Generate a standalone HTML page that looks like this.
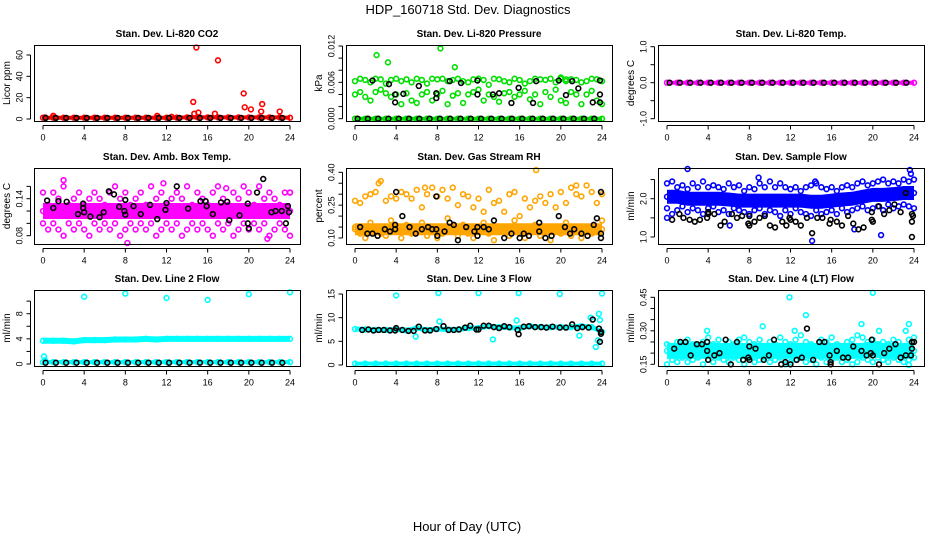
<!DOCTYPE html>
<html><head><meta charset="utf-8"><style>
html,body{margin:0;padding:0;background:#fff;}
svg{display:block;font-family:"Liberation Sans",sans-serif;}
</style></head><body>
<svg id="chart" width="936" height="540" viewBox="0 0 936 540">
<text x="468" y="14" font-size="13" text-anchor="middle">HDP_160718  Std. Dev. Diagnostics</text>
<text x="467" y="531" font-size="13" text-anchor="middle">Hour of Day (UTC)</text>
</svg>
<script>
// ---------- data ----------
const xTicks = [0,4,8,12,16,20,24];
const bandHours = [0,1,2,3,4,5,6,7,8,9,10,11,12,13,14,15,16,17,18,19,20,21,22,23,24];

const co2Band = [1.2,1.2,1.2,1.2,1.2,1.2,1.2,1.2,1.2,1.2,1.2,1.2,1.2,1.3,1.5,1.6,1.5,1.5,1.5,1.5,1.5,1.5,1.5,1.5,1.2];
const co2Out = [[14.6,16],[14.9,67],[17,55],[19.5,24],[19.6,11],[20.2,9],[21.3,14],[21.2,7],[23,7],[15.1,6],[14.7,5],[16.7,5],[11.1,3],[12.5,2],[0.2,1.5],[1,3]];
const co2Black = [1,1,1,1,1,1,1,1,1,1,1,1,1,1,1,1,1,1,1,1,1,1,1,1,1];

const presBand = [0,0,0,0,0,0,0,0,0,0,0,0,0,0,0,0,0,0,0,0,0,0,0,0,0];
const presHigh = [0.0062,0.0066,0.0064,0.0060,0.0066,0.0065,0.0058,0.0064,0.0066,0.0062,0.0065,0.0060,0.0066,0.0064,0.0058,0.0066,0.0065,0.0066,0.0062,0.0064,0.0066,0.0062,0.0060,0.0065,0.0066,0.0064,0.0056,0.0066,0.0065,0.0062,0.0060,0.0066,0.0064,0.0058,0.0062,0.0066,0.0065,0.0064,0.0066,0.0060,0.0066,0.0062,0.0065,0.0064,0.0060,0.0062,0.0066,0.0065,0.0062];
const presLow = [0.0040,0.0044,0.0036,0.0030,0.0044,0.0048,0.0042,0.0036,0.0040,0.0024,0.0042,0.0030,0.0026,0.0040,0.0044,0.0030,0.0040,0.0046,0.0024,0.0038,0.0042,0.0026,0.0040,0.0044,0.0048,0.0030,0.0040,0.0036,0.0028,0.0042,0.0044,0.0036,0.0040,0.0046,0.0032,0.0040,0.0024,0.0044,0.0036,0.0048,0.0030,0.0026,0.0044,0.0040,0.0024,0.0040,0.0046,0.0030,0.0024];
const presOut = [[2.1,0.0105],[3.2,0.0093],[8.3,0.0116],[9.7,0.0085],[20,0.0068],[20.5,0.0065]];
const presBlack = [[1.7,0.0063],[3.3,0.0057],[3.9,0.0040],[3.9,0.0027],[4.7,0.0041],[6.2,0.0054],[7.9,0.0042],[7.9,0.0034],[9.2,0.0062],[10.3,0.0059],[11.9,0.0063],[11.9,0.0040],[13.4,0.0040],[14,0.0042],[15.2,0.0026],[15.9,0.0051],[17.3,0.0026],[17.6,0.0062],[19.8,0.0063],[20.5,0.0039],[21.1,0.0062],[21.7,0.0050],[23.1,0.0027],[23.8,0.0063],[23.8,0.0040],[23.8,0.0027]];
const presBlackZero = [0,0,0,0,0,0,0,0,0,0,0,0,0,0,0,0,0,0,0,0,0,0,0,0,0];

const tempBand = [0,0,0,0,0,0,0,0,0,0,0,0,0,0,0,0,0,0,0,0,0,0,0,0,0];
const tempBlack = [0,0,0,0,0,0,0,0,0,0,0,0,0,0,0,0,0,0,0,0,0,0,0,0,0];

const ambBand = [0.12,0.12,0.12,0.12,0.12,0.12,0.12,0.12,0.12,0.12,0.12,0.12,0.12,0.12,0.12,0.12,0.12,0.12,0.12,0.12,0.12,0.12,0.12,0.12,0.12];
const ambHigh = [0.15,0.13,0.15,0.14,0.16,0.13,0.14,0.15,0.13,0.14,0.15,0.14,0.13,0.15,0.16,0.14,0.15,0.13,0.14,0.15,0.13,0.16,0.14,0.15,0.13,0.14,0.15,0.14,0.16,0.13,0.15,0.14,0.13,0.15,0.16,0.14,0.13,0.15,0.14,0.16,0.15,0.13,0.16,0.14,0.15,0.14,0.13,0.15,0.15];
const ambLow = [0.10,0.09,0.10,0.09,0.08,0.10,0.09,0.10,0.09,0.08,0.10,0.09,0.10,0.09,0.10,0.08,0.09,0.10,0.09,0.10,0.09,0.10,0.08,0.09,0.10,0.09,0.10,0.08,0.09,0.10,0.09,0.10,0.09,0.08,0.10,0.09,0.10,0.08,0.09,0.10,0.09,0.10,0.09,0.10,0.08,0.09,0.10,0.09,0.08];
const ambOut = [[2,0.17],[8.2,0.067],[11.7,0.165],[17.8,0.157],[21.8,0.075],[24,0.15]];
const ambBlack = [[0.4,0.137],[1,0.125],[1.5,0.136],[2.3,0.135],[3.4,0.115],[3.9,0.132],[3.9,0.125],[4,0.118],[4.6,0.111],[5.5,0.11],[5.9,0.118],[6.4,0.152],[6.9,0.147],[7.4,0.127],[7.9,0.12],[8.0,0.138],[8.0,0.114],[8.8,0.128],[9.5,0.115],[10.4,0.13],[11.1,0.107],[11.9,0.122],[12.0,0.133],[13.0,0.16],[14.1,0.124],[15.3,0.136],[15.8,0.136],[15.9,0.128],[16.5,0.115],[17.3,0.134],[17.9,0.135],[18.1,0.105],[19.1,0.113],[19.9,0.132],[19.9,0.10],[20.0,0.092],[20.8,0.15],[21.4,0.172],[22.2,0.118],[22.6,0.12],[23.2,0.12],[23.6,0.10],[23.8,0.128],[23.9,0.118]];

const rhBand = [0.14,0.14,0.14,0.14,0.14,0.14,0.14,0.14,0.14,0.14,0.14,0.14,0.14,0.14,0.14,0.14,0.14,0.14,0.14,0.14,0.14,0.14,0.14,0.14,0.14];
const rhHigh = [0.27,0.26,0.29,0.30,0.31,0.36,0.27,0.29,0.28,0.31,0.30,0.28,0.32,0.24,0.30,0.33,0.29,0.32,0.28,0.33,0.25,0.30,0.29,0.24,0.28,0.22,0.32,0.26,0.27,0.22,0.30,0.31,0.20,0.28,0.24,0.27,0.29,0.26,0.30,0.24,0.31,0.26,0.33,0.30,0.29,0.34,0.31,0.26,0.30];
const rhLow = [0.15,0.12,0.10,0.17,0.13,0.12,0.11,0.18,0.14,0.10,0.16,0.12,0.13,0.17,0.11,0.15,0.10,0.12,0.19,0.13,0.11,0.16,0.12,0.10,0.14,0.17,0.12,0.09,0.15,0.13,0.11,0.18,0.12,0.10,0.14,0.16,0.11,0.13,0.09,0.15,0.12,0.17,0.11,0.13,0.10,0.15,0.12,0.14,0.18];
const rhOut = [[17.6,0.41],[2.3,0.35],[6.8,0.33],[21.5,0.34]];
const rhBlack = [[0.5,0.15],[1.2,0.12],[1.7,0.12],[2.2,0.11],[2.9,0.14],[3.4,0.13],[3.9,0.14],[3.9,0.16],[4,0.31],[4.6,0.20],[5.3,0.15],[5.9,0.12],[6.5,0.14],[7.1,0.15],[7.5,0.14],[7.9,0.14],[7.9,0.29],[8.0,0.11],[8.7,0.13],[9.2,0.17],[9.6,0.16],[10.0,0.09],[10.8,0.15],[11.6,0.13],[11.9,0.15],[11.9,0.11],[12.5,0.15],[13.0,0.14],[13.5,0.18],[14.5,0.10],[15.2,0.12],[16.0,0.10],[16.4,0.12],[16.9,0.11],[17.9,0.17],[17.9,0.13],[18.5,0.10],[19.1,0.11],[19.8,0.20],[20.4,0.15],[20.9,0.12],[21.3,0.14],[22.0,0.12],[22.6,0.11],[23.2,0.16],[23.5,0.19],[23.9,0.12],[23.9,0.10],[23.9,0.31]];

const flowBand = [2.05,2.05,2.0,2.0,2.0,2.0,1.98,1.95,1.95,1.95,1.95,1.95,1.95,1.95,1.92,1.92,1.95,1.98,2.0,2.05,2.1,2.1,2.12,2.15,2.15];
const flowHigh = [2.4,2.45,2.3,2.35,2.25,2.4,2.3,2.45,2.3,2.35,2.3,2.25,2.4,2.3,2.35,2.2,2.3,2.25,2.4,2.3,2.45,2.3,2.4,2.3,2.25,2.3,2.2,2.3,2.35,2.4,2.3,2.25,2.3,2.2,2.3,2.35,2.3,2.4,2.45,2.35,2.4,2.45,2.5,2.4,2.45,2.4,2.5,2.45,2.5];
const flowLow = [1.75,1.6,1.7,1.8,1.65,1.75,1.7,1.6,1.75,1.8,1.65,1.7,1.6,1.75,1.7,1.65,1.6,1.7,1.75,1.6,1.7,1.65,1.55,1.7,1.6,1.75,1.65,1.6,1.55,1.7,1.6,1.65,1.7,1.6,1.75,1.65,1.7,1.75,1.8,1.7,1.75,1.8,1.7,1.85,1.75,1.8,1.85,1.8,1.75];
const flowOut = [[2,2.8],[8.9,2.55],[14.1,0.9],[20.8,1.05],[23.6,2.75],[23.7,2.65],[0,1.5],[6.1,1.3],[14.4,2.45],[18.2,1.2]];
const flowBlack = [[0.5,1.45],[1.2,1.6],[1.6,1.5],[2.2,1.45],[2.7,1.4],[3.2,1.45],[3.9,1.5],[4,1.6],[4,1.65],[4.6,1.6],[5.2,1.3],[5.6,1.4],[6.3,1.6],[6.8,1.5],[7.3,1.55],[7.9,1.35],[8,1.3],[8,1.55],[8.5,1.4],[9,1.5],[9.5,1.55],[10,1.3],[10.5,1.25],[11.2,1.4],[11.6,1.3],[11.9,1.5],[12,1.45],[12.5,1.4],[13,1.3],[13.6,1.5],[14.1,1.1],[14.6,1.5],[15.1,1.5],[15.8,1.35],[15.9,1.45],[16.5,1.4],[17,1.3],[17.6,1.55],[18.1,1.35],[18.6,1.2],[19.1,1.25],[19.9,1.45],[19.9,1.65],[20,1.4],[20.6,1.8],[21.1,1.6],[21.6,1.7],[22.1,1.85],[22.7,1.65],[23.2,2.15],[23.8,1.6],[23.8,1.4],[23.9,1.55],[23.8,1.0]];

const line2Band = [3.7,3.7,3.7,3.6,3.8,3.8,3.8,3.9,3.9,3.9,4.0,3.9,4.0,4.0,4.0,4.0,4.0,4.0,4.0,4.0,4.0,4.0,4.0,4.0,4.0];
const line2Base = [0.3,0.3,0.3,0.3,0.3,0.3,0.3,0.3,0.3,0.3,0.3,0.3,0.3,0.3,0.3,0.3,0.3,0.3,0.3,0.3,0.3,0.3,0.3,0.3,0.3];
const line2Out = [[4,10.7],[8,11.2],[12,10.5],[16,10.2],[20,11.1],[24,11.4],[0.1,1.2],[0.2,0.6]];
const line2Black = [0.2,0.2,0.2,0.2,0.2,0.2,0.2,0.2,0.2,0.2,0.2,0.2,0.2,0.2,0.2,0.2,0.2,0.2,0.2,0.2,0.2,0.2,0.2,0.2,0.2];

const line3Band = [7.6,7.5,7.4,7.4,7.5,7.3,7.8,7.4,7.6,7.5,7.5,7.8,7.8,8.2,8.0,7.9,7.8,8.2,8.0,8.0,8.0,8.0,8.2,8.0,7.0];
const line3Base = [0.3,0.3,0.3,0.3,0.3,0.3,0.3,0.3,0.3,0.3,0.3,0.3,0.3,0.3,0.3,0.3,0.3,0.3,0.3,0.3,0.3,0.3,0.3,0.3,0.3];
const line3Out = [[4,14.7],[8.1,15.2],[12,15.2],[15.9,15.2],[19.9,15.0],[24,15.1],[5.9,6.0],[8.2,9.2],[13.4,5.4],[15.7,9.4],[21.8,6.2],[22.9,10],[23.4,3.8],[23.6,5.2],[23.7,10.8],[23.8,9.5]];
const line3Black = [[0.7,7.4],[1.3,7.5],[1.8,7.3],[2.3,7.4],[2.8,7.4],[3.4,7.3],[3.9,7.3],[4,7.8],[4.6,7.4],[5.2,7.2],[5.7,7.2],[6.2,8.1],[6.8,7.3],[7.3,7.3],[7.9,7.6],[8.6,8.2],[9.1,7.4],[9.6,7.4],[10.1,7.5],[10.7,7.9],[11.2,8.3],[11.8,7.5],[12,7.5],[12.5,8.3],[13.0,8.3],[13.5,8.0],[14.0,7.8],[14.5,8.2],[15.0,8.0],[15.8,7.4],[15.9,6.5],[16.4,8.1],[16.9,8.2],[17.5,8.0],[18.1,8.0],[18.6,7.9],[19.2,8.1],[19.9,7.9],[20.5,7.9],[21.1,8.6],[21.6,7.8],[22.1,8.0],[22.7,7.9],[23.1,9.6],[23.7,7.7],[23.8,4.9],[23.9,6.6],[23.9,7.0]];

const line4Band = [0.21,0.21,0.21,0.21,0.21,0.21,0.21,0.21,0.21,0.21,0.21,0.21,0.21,0.21,0.21,0.21,0.21,0.21,0.21,0.21,0.22,0.21,0.21,0.21,0.21];
const line4High = [0.24,0.23,0.25,0.24,0.26,0.24,0.23,0.25,0.27,0.24,0.26,0.23,0.25,0.24,0.26,0.27,0.25,0.24,0.26,0.23,0.25,0.24,0.27,0.25,0.24,0.26,0.28,0.25,0.24,0.23,0.26,0.25,0.27,0.24,0.23,0.25,0.26,0.28,0.27,0.25,0.26,0.24,0.25,0.24,0.26,0.25,0.23,0.26,0.27];
const line4Low = [0.15,0.17,0.16,0.18,0.16,0.17,0.18,0.15,0.17,0.16,0.18,0.17,0.16,0.18,0.17,0.15,0.18,0.16,0.17,0.18,0.16,0.17,0.18,0.15,0.16,0.17,0.18,0.16,0.17,0.15,0.18,0.16,0.17,0.18,0.16,0.17,0.15,0.16,0.18,0.17,0.16,0.18,0.17,0.16,0.18,0.17,0.16,0.17,0.18];
const line4Out = [[11.9,0.45],[13.5,0.37],[20,0.47],[18.9,0.33],[9.3,0.32],[3.9,0.30],[12.4,0.30],[20.6,0.30],[23.2,0.30],[23.5,0.33],[23.5,0.12]];
const line4Black = [[0.7,0.22],[1.3,0.25],[1.8,0.25],[2.3,0.19],[2.9,0.24],[3.4,0.24],[3.9,0.25],[3.9,0.21],[4,0.17],[4.6,0.19],[5.1,0.20],[5.7,0.26],[6.2,0.15],[6.8,0.25],[7.4,0.17],[7.9,0.18],[8,0.23],[8,0.17],[8.6,0.22],[9.4,0.17],[9.9,0.19],[10.4,0.26],[11.1,0.15],[11.5,0.16],[11.9,0.21],[12,0.15],[12.6,0.17],[13.1,0.18],[13.6,0.31],[14.2,0.17],[14.8,0.25],[15.3,0.25],[15.8,0.19],[15.9,0.16],[15.9,0.15],[16.5,0.21],[17.1,0.18],[17.6,0.18],[18.1,0.23],[18.9,0.21],[19.4,0.19],[19.8,0.20],[19.9,0.26],[20,0.19],[20.6,0.15],[21.1,0.20],[21.6,0.22],[22.2,0.24],[22.7,0.18],[23.2,0.19],[23.7,0.19],[23.8,0.25],[23.8,0.22],[24,0.25]];

// ---------- layout ----------
const NS = "http://www.w3.org/2000/svg";
const svg = document.getElementById('chart');
const colLeft = [34,346,658], rowTop = [45,168,290], boxW = 266, boxH = 76;
function mk(tag, attrs, parent){ const e=document.createElementNS(NS,tag); for(const k in attrs) e.setAttribute(k,attrs[k]); (parent||svg).appendChild(e); return e; }
function halfHours(n){ const a=[]; for(let i=0;i<n;i++) a.push(i*24/(n-1)); return a; }

const panels = [
 {id:'co2',title:'Stan. Dev. Li-820 CO2',ylab:'Licor ppm',col:'#ff0000',r:0,c:0,anc:[0,74,60,10],ticks:[0,20,40,60],labels:[0,20,40,60],fmt:0,
  bands:[[co2Band,4]],high:null,low:null,out:co2Out,bLine:co2Black,bPts:null},
 {id:'pressure',title:'Stan. Dev. Li-820 Pressure',ylab:'kPa',col:'#00e000',r:0,c:1,anc:[0,73.7,0.012,1],ticks:[0,0.002,0.004,0.006,0.008,0.010,0.012],labels:[0,0.006,0.012],fmt:3,
  bands:[[presBand,4]],high:presHigh,low:presLow,out:presOut,bLine:presBlackZero,bPts:presBlack},
 {id:'temp',title:'Stan. Dev. Li-820 Temp.',ylab:'degrees C',col:'#ff00ff',r:0,c:2,anc:[0,37.7,1,1.7],ticks:[-1,-0.5,0,0.5,1],labels:[-1,0,1],fmt:1,
  bands:[[tempBand,4]],high:null,low:null,out:[],bLine:tempBlack,bPts:null},
 {id:'ambbox',title:'Stan. Dev. Amb. Box Temp.',ylab:'degrees C',col:'#ff00ff',r:1,c:0,anc:[0.08,67.7,0.14,30.7],ticks:[0.08,0.10,0.12,0.14,0.16],labels:[0.08,0.14],fmt:2,
  bands:[[ambBand,16]],high:ambHigh,low:ambLow,out:ambOut,bLine:null,bPts:ambBlack},
 {id:'rh',title:'Stan. Dev. Gas Stream RH',ylab:'percent',col:'#ffa500',r:1,c:1,anc:[0.10,70,0.40,4.3],ticks:[0.10,0.15,0.20,0.25,0.30,0.35,0.40],labels:[0.10,0.25,0.40],fmt:2,
  bands:[[rhBand,12]],high:rhHigh,low:rhLow,out:rhOut,bLine:null,bPts:rhBlack},
 {id:'sampleflow',title:'Stan. Dev. Sample Flow',ylab:'ml/min',col:'#0000ff',r:1,c:2,anc:[1.0,69,2.0,30.7],ticks:[1.0,1.5,2.0,2.5],labels:[1.0,2.0],fmt:1,
  bands:[[flowBand,14]],high:flowHigh,low:flowLow,out:flowOut,bLine:null,bPts:flowBlack},
 {id:'line2',title:'Stan. Dev. Line 2 Flow',ylab:'ml/min',col:'#00ffff',r:2,c:0,anc:[0,74,8,23.7],ticks:[0,2,4,6,8,10],labels:[0,4,8],fmt:0,
  bands:[[line2Band,6],[line2Base,4]],high:null,low:null,out:line2Out,bLine:line2Black,bPts:null},
 {id:'line3',title:'Stan. Dev. Line 3 Flow',ylab:'ml/min',col:'#00ffff',r:2,c:1,anc:[0,75,15,4],ticks:[0,5,10,15],labels:[0,5,10,15],fmt:0,
  bands:[[line3Band,5],[line3Base,4]],high:null,low:null,out:line3Out,bLine:null,bPts:line3Black},
 {id:'line4',title:'Stan. Dev. Line 4 (LT) Flow',ylab:'ml/min',col:'#00ffff',r:2,c:2,anc:[0.15,74.3,0.45,7.3],ticks:[0.15,0.20,0.25,0.30,0.35,0.40,0.45],labels:[0.15,0.30,0.45],fmt:2,
  bands:[[line4Band,16]],high:line4High,low:line4Low,out:line4Out,bLine:null,bPts:line4Black}
];

panels.forEach(p=>{
  const L=colLeft[p.c], T=rowTop[p.r];
  const g=mk('g',{});
  
  
  const xs=h=>L+9+h*247/24;
  const ys=v=>{ const y=T+p.anc[1]+(v-p.anc[0])*(p.anc[3]-p.anc[1])/(p.anc[2]-p.anc[0]); return Math.max(T+1,Math.min(T+boxH-1,y)); };
  const t=mk('text',{x:L+boxW/2,y:T-8,'font-size':10,'font-weight':'bold','text-anchor':'middle'},g); t.textContent=p.title;
  
  
  const yl=mk('text',{x:0,y:0,'font-size':10,'text-anchor':'middle',transform:`translate(${L-24},${T+boxH/2}) rotate(-90)`},g); yl.textContent=p.ylab;
  
  
  p.bands.forEach(([arr,w])=>{
    const top=arr.map((v,i)=>xs(bandHours[i])+','+(ys(v)-w/2));
    const bot=arr.map((v,i)=>xs(bandHours[i])+','+(ys(v)+w/2)).reverse();
    const pl=mk('polygon',{points:top.concat(bot).join(' '),fill:p.col,stroke:'none'},g);
    
    
    arr.forEach((v,i)=>{ const c=mk('circle',{cx:xs(bandHours[i]),cy:ys(v),r:2.4,fill:'none',stroke:p.col,'stroke-width':1.6},g);
        });
  });
  const drawPts=(pairs,color)=>pairs.forEach(([h,v])=>{
    const c=mk('circle',{cx:xs(h),cy:ys(v),r:2.4,fill:'none',stroke:color,'stroke-width':1.6},g);
    
    
  });
  [p.high,p.low].forEach(arr=>{ if(arr){ const hh=halfHours(arr.length); drawPts(arr.map((v,i)=>[hh[i],v]),p.col); } });
  drawPts(p.out,p.col);
  if(p.bLine){ const hh=halfHours(p.bLine.length); drawPts(p.bLine.map((v,i)=>[hh[i]+0.25,v]).filter(d=>d[0]<=24),'#000'); }
  if(p.bPts) drawPts(p.bPts,'#000');
  const box=mk('rect',{x:L+0.5,y:T+0.5,width:boxW,height:boxH,fill:'none',stroke:'#000','stroke-width':1},g);
  
  
  const B=T+boxH+0.5;
  mk('line',{x1:xs(0),x2:xs(24),y1:B+4,y2:B+4,stroke:'#000'},g);
  xTicks.forEach(h=>{
    mk('line',{x1:xs(h),x2:xs(h),y1:B+4,y2:B+8,stroke:'#000'},g);
    const tl=mk('text',{x:xs(h),y:B+19,'font-size':9,'text-anchor':'middle'},g); tl.textContent=h;
    
    
  });
  const yx=L-3.5;
  mk('line',{x1:yx,x2:yx,y1:ys(p.ticks[0]),y2:ys(p.ticks[p.ticks.length-1]),stroke:'#000'},g);
  p.ticks.forEach(v=>mk('line',{x1:yx-4,x2:yx,y1:ys(v),y2:ys(v),stroke:'#000'},g));
  p.labels.forEach(v=>{
    const tl=mk('text',{x:0,y:0,'font-size':9,'text-anchor':'middle',transform:`translate(${yx-8},${ys(v)}) rotate(-90)`},g);
    tl.textContent=v.toFixed(p.fmt);
    
    
  });
});
</script>
</body></html>
